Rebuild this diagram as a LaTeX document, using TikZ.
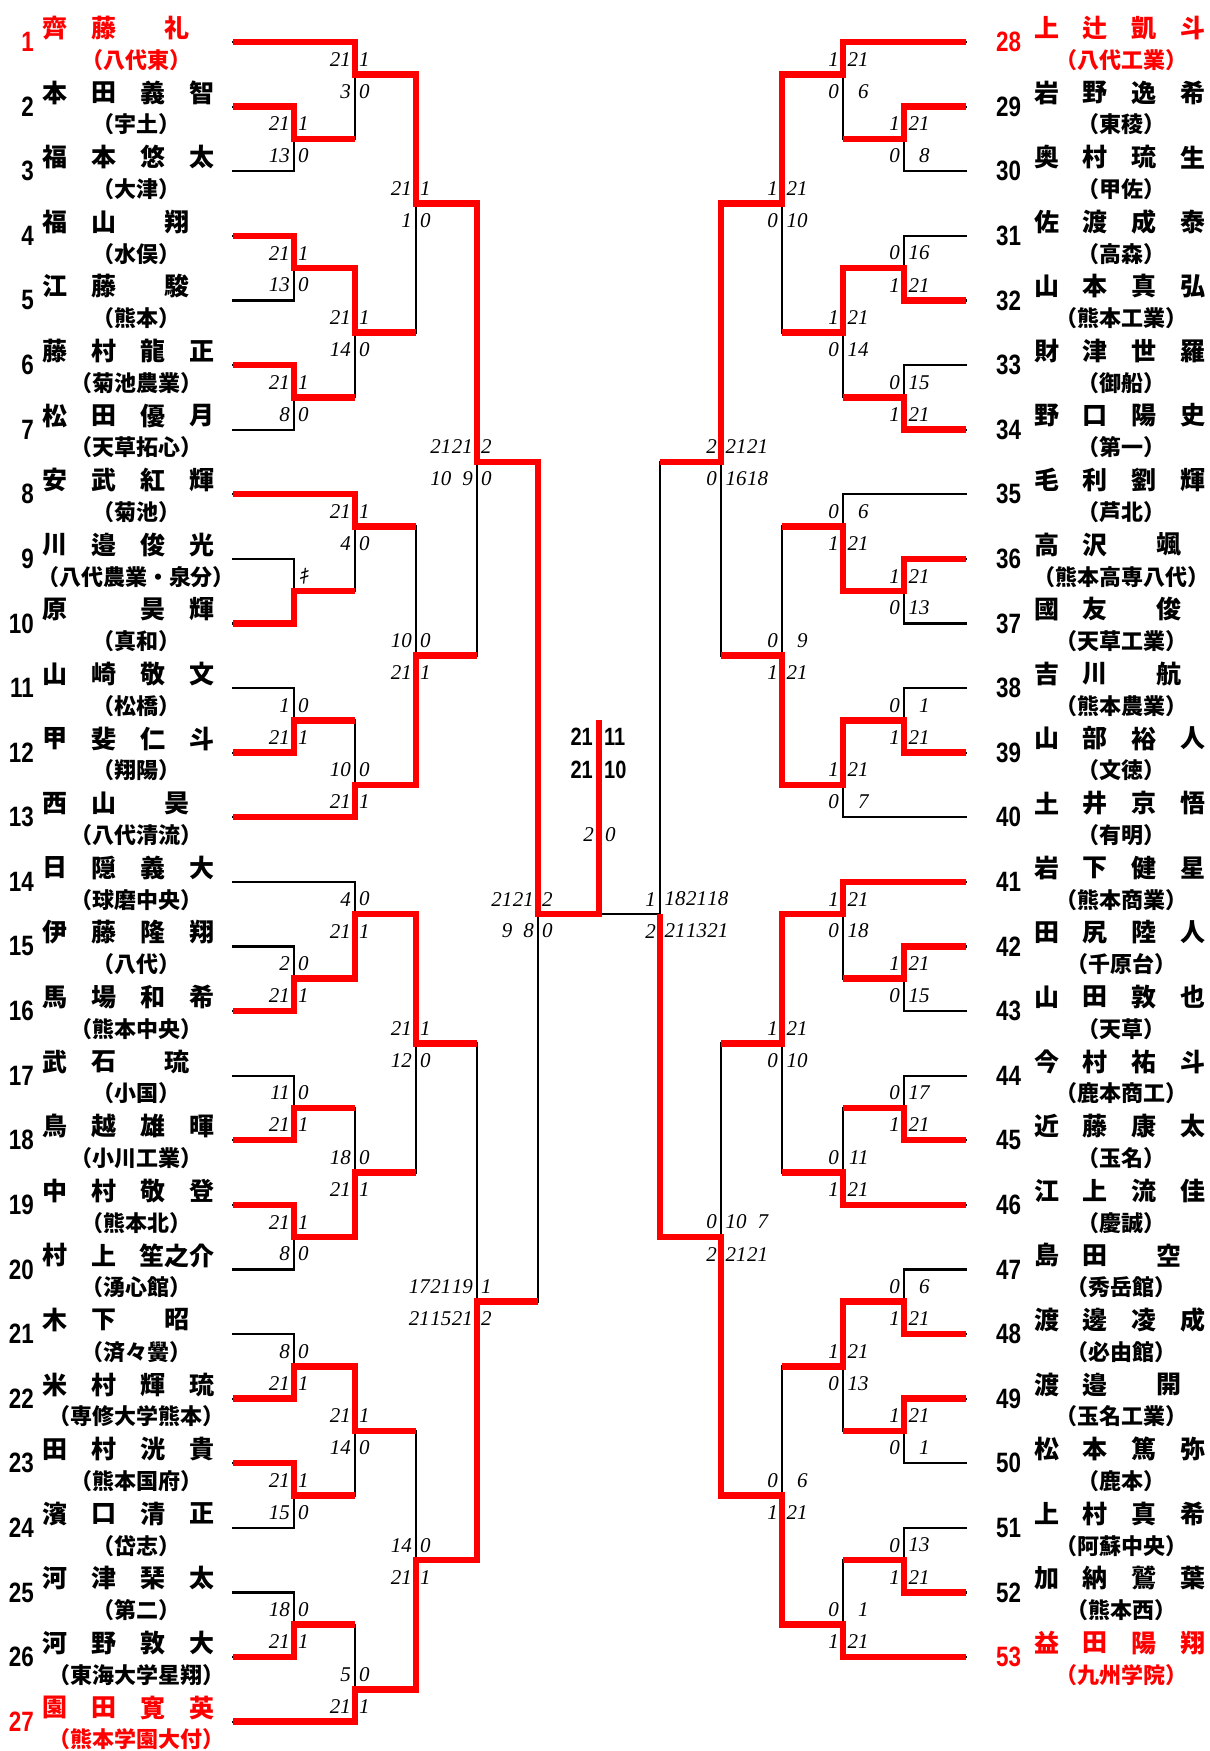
\documentclass[tikz,border=0pt]{standalone}
\usepackage{fontspec}
\newfontfamily\jp{Noto Sans CJK JP}
\newfontfamily\jpsl[FakeSlant=0.2]{Noto Sans CJK JP}
\newfontfamily\numf[FakeStretch=0.8]{Liberation Sans}
\newfontfamily\scf{Liberation Serif}
\newcommand\gc[1]{\makebox[1.02em][r]{#1}}
\newcommand\ifne[2]{\if\relax\detokenize{#1}\relax\else#2\fi}
\tikzset{
 bl/.style={line width=2.2pt, black, line cap=rect},
 rd/.style={line width=6.5pt, red, line join=miter},
 sc/.style={inner sep=0pt, font=\scf\itshape\fontsize{21}{21}\selectfont},
 nm/.style={inner sep=0pt, font=\jp\bfseries\fontsize{25}{25}\selectfont},
 sch/.style={inner sep=0pt, font=\jp\bfseries\fontsize{22}{22}\selectfont},
 num/.style={inner sep=0pt, font=\numf\bfseries\fontsize{28}{28}\selectfont},
 fin/.style={inner sep=0pt, font=\numf\bfseries\fontsize{25}{25}\selectfont},
 kk/.style={inner sep=0pt, font=\jpsl\fontsize{20}{20}\selectfont},
}
\newcommand\pL[9]{%
 \node[num,text=#9,anchor=east] (n#1) at (34,#2) {#1};
 \ifne{#3}{\node[nm,text=#9,yshift=14pt] (a#1) at (55,#2) {#3};}%
 \ifne{#4}{\node[nm,text=#9,yshift=14pt] (b#1) at (104,#2) {#4};}%
 \ifne{#5}{\node[nm,text=#9,yshift=14pt] (c#1) at (153,#2) {#5};}%
 \ifne{#6}{\node[nm,text=#9,yshift=14pt] (d#1) at (202,#2) {#6};}%
 \ifne{#7}{\node[nm,text=#9,yshift=14pt] (e#1) at (177,#2) {#7};}%
 \node[sch,text=#9,yshift=-18pt] (s#1) at (136,#2) {#8};}
\newcommand\pR[9]{%
 \node[num,text=#9,anchor=west] (n#1) at (996,#2) {#1};
 \ifne{#3}{\node[nm,text=#9,yshift=14pt] (a#1) at (1047,#2) {#3};}%
 \ifne{#4}{\node[nm,text=#9,yshift=14pt] (b#1) at (1095,#2) {#4};}%
 \ifne{#5}{\node[nm,text=#9,yshift=14pt] (c#1) at (1144,#2) {#5};}%
 \ifne{#6}{\node[nm,text=#9,yshift=14pt] (d#1) at (1193,#2) {#6};}%
 \ifne{#7}{\node[nm,text=#9,yshift=14pt] (e#1) at (1169,#2) {#7};}%
 \node[sch,text=#9,yshift=-18pt] (s#1) at (1121,#2) {#8};}
\newcommand\sco[6]{%
 \node[sc,anchor=east,xshift=-4pt,yshift=15pt] at (#1,#2) {#3};
 \node[sc,anchor=west,xshift=4pt,yshift=15pt] at (#1,#2) {#4};
 \node[sc,anchor=east,xshift=-4pt,yshift=-17pt] at (#1,#2) {#5};
 \node[sc,anchor=west,xshift=4pt,yshift=-17pt] at (#1,#2) {#6};}
\newcommand\mt[5]{\draw[bl] (#1,#2) -- (#1,#3); \draw[bl] (#1,#4) -- (#5,#4);}
\begin{document}
\begin{tikzpicture}
\useasboundingbox (0pt,0pt) rectangle (1210pt,-1751pt);
\begin{scope}[x=1pt,y=-32.3pt,yshift=-42pt]
% player lines
\foreach \k in {0,14,24,26,52} {\draw[bl] (233,\k) -- (355,\k);}
\foreach \k in {2,4,6,8,10,12,16,18,20,22,28,30,32,34,36,38,40,42,44,46,48,50} {\draw[bl] (233,\k) -- (294,\k);}
\foreach \k in {0,14,24,26,36,50} {\draw[bl] (966,\k) -- (843,\k);}
\foreach \k in {2,4,6,8,10,12,16,18,20,22,28,30,32,34,38,40,42,44,46,48} {\draw[bl] (966,\k) -- (904,\k);}
% matches left
\foreach \a/\b/\c in {2/4/3,6/8/7,10/12/11,16/18/17,20/22/21,28/30/29,32/34/33,36/38/37,40/42/41,44/46/45,48/50/49} {\mt{294}{\a}{\b}{\c}{355}}
\foreach \a/\b/\c in {0/3/1,7/11/9,14/17/15,21/24/23,26/29/27,33/37/35,41/45/43,49/52/51} {\mt{355}{\a}{\b}{\c}{416}}
\foreach \a/\b/\c in {1/9/5,15/23/19,27/35/31,43/51/47} {\mt{416}{\a}{\b}{\c}{477}}
\foreach \a/\b/\c in {5/19/13,31/47/39} {\mt{477}{\a}{\b}{\c}{538}}
\mt{538}{13}{39}{27}{599}
% matches right
\foreach \a/\b/\c in {2/4/3,6/8/7,10/12/11,16/18/17,20/22/21,28/30/29,32/34/33,38/40/39,42/44/43,46/48/47} {\mt{904}{\a}{\b}{\c}{843}}
\foreach \a/\b/\c in {0/3/1,7/11/9,14/17/15,21/24/23,26/29/27,33/36/35,39/43/41,47/50/49} {\mt{843}{\a}{\b}{\c}{782}}
\foreach \a/\b/\c in {1/9/5,15/23/19,27/35/31,41/49/45} {\mt{782}{\a}{\b}{\c}{721}}
\foreach \a/\b/\c in {5/19/13,31/45/37} {\mt{721}{\a}{\b}{\c}{660}}
\mt{660}{13}{37}{27}{599}
% red winner paths left
\draw[rd] (233,0)--(355,0)--(355,1)--(416,1)--(416,5)--(477,5)--(477,13)--(538,13)--(538,27)--(599,27)--(599,21);
\draw[rd] (233,2)--(294,2)--(294,3)--(355,3);
\draw[rd] (233,6)--(294,6)--(294,7)--(355,7)--(355,9)--(416,9);
\draw[rd] (233,10)--(294,10)--(294,11)--(355,11);
\draw[rd] (233,14)--(355,14)--(355,15)--(416,15);
\draw[rd] (233,18)--(294,18)--(294,17)--(355,17);
\draw[rd] (233,22)--(294,22)--(294,21)--(355,21);
\draw[rd] (233,24)--(355,24)--(355,23)--(416,23)--(416,19)--(477,19);
\draw[rd] (233,30)--(294,30)--(294,29)--(355,29)--(355,27)--(416,27)--(416,31)--(477,31);
\draw[rd] (233,34)--(294,34)--(294,33)--(355,33);
\draw[rd] (233,36)--(294,36)--(294,37)--(355,37)--(355,35)--(416,35);
\draw[rd] (233,42)--(294,42)--(294,41)--(355,41)--(355,43)--(416,43);
\draw[rd] (233,44)--(294,44)--(294,45)--(355,45);
\draw[rd] (233,50)--(294,50)--(294,49)--(355,49);
\draw[rd] (233,52)--(355,52)--(355,51)--(416,51)--(416,47)--(477,47)--(477,39)--(538,39);
% red winner paths right
\draw[rd] (966,0)--(843,0)--(843,1)--(782,1)--(782,5)--(721,5)--(721,13)--(660,13);
\draw[rd] (966,2)--(904,2)--(904,3)--(843,3);
\draw[rd] (966,8)--(904,8)--(904,7)--(843,7)--(843,9)--(782,9);
\draw[rd] (966,12)--(904,12)--(904,11)--(843,11);
\draw[rd] (966,16)--(904,16)--(904,17)--(843,17)--(843,15)--(782,15);
\draw[rd] (966,22)--(904,22)--(904,21)--(843,21)--(843,23)--(782,23)--(782,19)--(721,19);
\draw[rd] (966,26)--(843,26)--(843,27)--(782,27)--(782,31)--(721,31);
\draw[rd] (966,28)--(904,28)--(904,29)--(843,29);
\draw[rd] (966,34)--(904,34)--(904,33)--(843,33);
\draw[rd] (966,36)--(843,36)--(843,35)--(782,35);
\draw[rd] (966,40)--(904,40)--(904,39)--(843,39)--(843,41)--(782,41);
\draw[rd] (966,42)--(904,42)--(904,43)--(843,43);
\draw[rd] (966,48)--(904,48)--(904,47)--(843,47);
\draw[rd] (966,50)--(843,50)--(843,49)--(782,49)--(782,45)--(721,45)--(721,37)--(660,37)--(660,27);
% scores left
\sco{294}{3}{21}{1}{13}{0}
\sco{294}{7}{21}{1}{13}{0}
\sco{294}{11}{21}{1}{8}{0}
\node[kk,anchor=west,xshift=4pt,yshift=15pt] (kiken) at (294,17) {ｷ};
\sco{294}{21}{1}{0}{21}{1}
\sco{294}{29}{2}{0}{21}{1}
\sco{294}{33}{11}{0}{21}{1}
\sco{294}{37}{21}{1}{8}{0}
\sco{294}{41}{8}{0}{21}{1}
\sco{294}{45}{21}{1}{15}{0}
\sco{294}{49}{18}{0}{21}{1}
\sco{355}{1}{21}{1}{3}{0}
\sco{355}{9}{21}{1}{14}{0}
\sco{355}{15}{21}{1}{4}{0}
\sco{355}{23}{10}{0}{21}{1}
\sco{355}{27}{4}{0}{21}{1}
\sco{355}{35}{18}{0}{21}{1}
\sco{355}{43}{21}{1}{14}{0}
\sco{355}{51}{5}{0}{21}{1}
\sco{416}{5}{21}{1}{1}{0}
\sco{416}{19}{10}{0}{21}{1}
\sco{416}{31}{21}{1}{12}{0}
\sco{416}{47}{14}{0}{21}{1}
\sco{477}{13}{\gc{21}\gc{21}}{2}{\gc{10}\gc{9}}{0}
\sco{477}{39}{\gc{17}\gc{21}\gc{19}}{1}{\gc{21}\gc{15}\gc{21}}{2}
\sco{538}{27}{\gc{21}\gc{21}}{2}{\gc{9}\gc{8}}{0}
% scores right
\sco{904}{3}{1}{\gc{21}}{0}{\gc{8}}
\sco{904}{7}{0}{\gc{16}}{1}{\gc{21}}
\sco{904}{11}{0}{\gc{15}}{1}{\gc{21}}
\sco{904}{17}{1}{\gc{21}}{0}{\gc{13}}
\sco{904}{21}{0}{\gc{1}}{1}{\gc{21}}
\sco{904}{29}{1}{\gc{21}}{0}{\gc{15}}
\sco{904}{33}{0}{\gc{17}}{1}{\gc{21}}
\sco{904}{39}{0}{\gc{6}}{1}{\gc{21}}
\sco{904}{43}{1}{\gc{21}}{0}{\gc{1}}
\sco{904}{47}{0}{\gc{13}}{1}{\gc{21}}
\sco{843}{1}{1}{\gc{21}}{0}{\gc{6}}
\sco{843}{9}{1}{\gc{21}}{0}{\gc{14}}
\sco{843}{15}{0}{\gc{6}}{1}{\gc{21}}
\sco{843}{23}{1}{\gc{21}}{0}{\gc{7}}
\sco{843}{27}{1}{\gc{21}}{0}{\gc{18}}
\sco{843}{35}{0}{\gc{11}}{1}{\gc{21}}
\sco{843}{41}{1}{\gc{21}}{0}{\gc{13}}
\sco{843}{49}{0}{\gc{1}}{1}{\gc{21}}
\sco{782}{5}{1}{\gc{21}}{0}{\gc{10}}
\sco{782}{19}{0}{\gc{9}}{1}{\gc{21}}
\sco{782}{31}{1}{\gc{21}}{0}{\gc{10}}
\sco{782}{45}{0}{\gc{6}}{1}{\gc{21}}
\sco{721}{13}{2}{\gc{21}\gc{21}}{0}{\gc{16}\gc{18}}
\sco{721}{37}{0}{\gc{10}\gc{7}}{2}{\gc{21}\gc{21}}
\sco{660}{27}{1}{\gc{18}\gc{21}\gc{18}}{2}{\gc{21}\gc{13}\gc{21}}
% final
\node[fin,anchor=east] (f1) at (593,21.52) {21};
\node[fin,anchor=west] (f2) at (604,21.52) {11};
\node[fin,anchor=east] (f3) at (593,22.54) {21};
\node[fin,anchor=west] (f4) at (604,22.54) {10};
\node[sc,anchor=east] (f5) at (594,24.55) {2};
\node[sc,anchor=west] (f6) at (605,24.55) {0};
% players left
\pL{1}{0}{齊}{藤}{}{}{礼}{（八代東）}{red}
\pL{2}{2}{本}{田}{義}{智}{}{（宇土）}{black}
\pL{3}{4}{福}{本}{悠}{太}{}{（大津）}{black}
\pL{4}{6}{福}{山}{}{}{翔}{（水俣）}{black}
\pL{5}{8}{江}{藤}{}{}{駿}{（熊本）}{black}
\pL{6}{10}{藤}{村}{龍}{正}{}{（菊池農業）}{black}
\pL{7}{12}{松}{田}{優}{月}{}{（天草拓心）}{black}
\pL{8}{14}{安}{武}{紅}{輝}{}{（菊池）}{black}
\pL{9}{16}{川}{邉}{俊}{光}{}{（八代農業・泉分）}{black}
\pL{10}{18}{原}{}{昊}{輝}{}{（真和）}{black}
\pL{11}{20}{山}{崎}{敬}{文}{}{（松橋）}{black}
\pL{12}{22}{甲}{斐}{仁}{斗}{}{（翔陽）}{black}
\pL{13}{24}{西}{山}{}{}{昊}{（八代清流）}{black}
\pL{14}{26}{日}{隠}{義}{大}{}{（球磨中央）}{black}
\pL{15}{28}{伊}{藤}{隆}{翔}{}{（八代）}{black}
\pL{16}{30}{馬}{場}{和}{希}{}{（熊本中央）}{black}
\pL{17}{32}{武}{石}{}{}{琉}{（小国）}{black}
\pL{18}{34}{鳥}{越}{雄}{暉}{}{（小川工業）}{black}
\pL{19}{36}{中}{村}{敬}{登}{}{（熊本北）}{black}
\pL{20}{38}{村}{上}{}{}{笙之介}{（湧心館）}{black}
\pL{21}{40}{木}{下}{}{}{昭}{（済々黌）}{black}
\pL{22}{42}{米}{村}{輝}{琉}{}{（専修大学熊本）}{black}
\pL{23}{44}{田}{村}{洸}{貴}{}{（熊本国府）}{black}
\pL{24}{46}{濱}{口}{清}{正}{}{（岱志）}{black}
\pL{25}{48}{河}{津}{琹}{太}{}{（第二）}{black}
\pL{26}{50}{河}{野}{敦}{大}{}{（東海大学星翔）}{black}
\pL{27}{52}{園}{田}{寛}{英}{}{（熊本学園大付）}{red}
% players right
\pR{28}{0}{上}{辻}{凱}{斗}{}{（八代工業）}{red}
\pR{29}{2}{岩}{野}{逸}{希}{}{（東稜）}{black}
\pR{30}{4}{奥}{村}{琉}{生}{}{（甲佐）}{black}
\pR{31}{6}{佐}{渡}{成}{泰}{}{（高森）}{black}
\pR{32}{8}{山}{本}{真}{弘}{}{（熊本工業）}{black}
\pR{33}{10}{財}{津}{世}{羅}{}{（御船）}{black}
\pR{34}{12}{野}{口}{陽}{史}{}{（第一）}{black}
\pR{35}{14}{毛}{利}{劉}{輝}{}{（芦北）}{black}
\pR{36}{16}{高}{沢}{}{}{颯}{（熊本高専八代）}{black}
\pR{37}{18}{國}{友}{}{}{俊}{（天草工業）}{black}
\pR{38}{20}{吉}{川}{}{}{航}{（熊本農業）}{black}
\pR{39}{22}{山}{部}{裕}{人}{}{（文徳）}{black}
\pR{40}{24}{土}{井}{京}{悟}{}{（有明）}{black}
\pR{41}{26}{岩}{下}{健}{星}{}{（熊本商業）}{black}
\pR{42}{28}{田}{尻}{陸}{人}{}{（千原台）}{black}
\pR{43}{30}{山}{田}{敦}{也}{}{（天草）}{black}
\pR{44}{32}{今}{村}{祐}{斗}{}{（鹿本商工）}{black}
\pR{45}{34}{近}{藤}{康}{太}{}{（玉名）}{black}
\pR{46}{36}{江}{上}{流}{佳}{}{（慶誠）}{black}
\pR{47}{38}{島}{田}{}{}{空}{（秀岳館）}{black}
\pR{48}{40}{渡}{邊}{凌}{成}{}{（必由館）}{black}
\pR{49}{42}{渡}{邉}{}{}{開}{（玉名工業）}{black}
\pR{50}{44}{松}{本}{篤}{弥}{}{（鹿本）}{black}
\pR{51}{46}{上}{村}{真}{希}{}{（阿蘇中央）}{black}
\pR{52}{48}{加}{納}{鷲}{葉}{}{（熊本西）}{black}
\pR{53}{50}{益}{田}{陽}{翔}{}{（九州学院）}{red}
\end{scope}
\end{tikzpicture}
\end{document}
